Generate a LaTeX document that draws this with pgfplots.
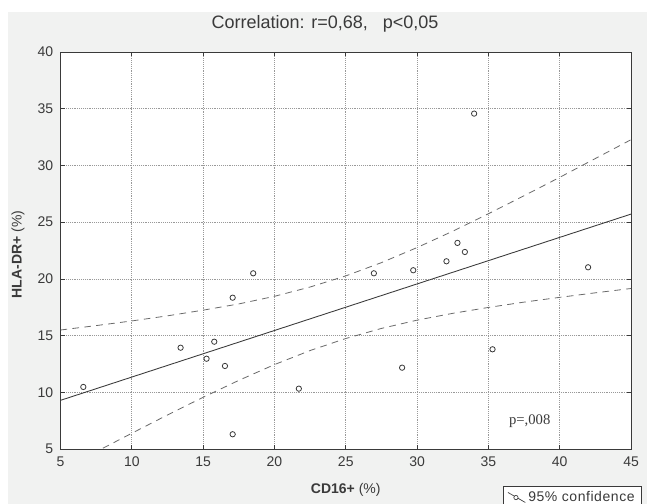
\documentclass[border=0pt]{standalone}
\usepackage{pgfplots}
\pgfplotsset{compat=1.18}
\usepackage{fontspec}
\setmainfont{Liberation Sans}
\newfontfamily\serifp{Liberation Serif}
\newfontfamily\legfont[LetterSpace=4]{Liberation Sans}
\definecolor{bg}{HTML}{F1F2F1}
\definecolor{txt}{HTML}{3A3A3A}
\definecolor{band}{HTML}{6A6A6A}

\begin{document}
\begin{tikzpicture}[x=0.75pt,y=0.75pt]
\fill[white] (0,0) rectangle (647,504);
\fill[bg] (8,0) rectangle (647,492);
\useasboundingbox (0,0) rectangle (647,504);
\begin{axis}[
  at={(45.375pt,41.25pt)}, anchor=south west,
  scale only axis, width=427.9pt, height=297.75pt,
  xmin=5, xmax=45, ymin=5, ymax=40,
  xtick={5,10,...,45}, ytick={5,10,...,40},
  grid=major,
  major grid style={densely dotted, gray!80, line width=0.5pt},
  axis line style={txt, line width=0.7pt},
  tick style={txt, line width=0.5pt},
  tick align=inside, major tick length=3pt,
  ticklabel style={font=\fontsize{10.5}{12}\selectfont, text=txt},
  xticklabel style={yshift=-2pt},
  yticklabel style={xshift=-2pt},
  /pgf/number format/assume math mode=true,
  axis background/.style={fill=white},
  title={Correlation: r=0,68,\ \ \ p<0,05},
  title style={at={(axis description cs:0.4636,1.052)}, anchor=center, font=\fontsize{13.5}{15}\selectfont, text=txt},
  xlabel={\textbf{CD16+} (\%)},
  xlabel style={at={(axis description cs:0.5,-0.103)}, anchor=center, font=\fontsize{10.5}{12}\selectfont, text=txt},
  ylabel={\textbf{HLA-DR+} (\%)},
  ylabel style={at={(axis description cs:-0.0745,0.49)}, anchor=center, font=\fontsize{10.5}{12}\selectfont, text=txt},
  legend style={at={(axis description cs:0.776,-0.0932)}, anchor=north west, draw=txt, fill=white,
    font=\legfont\fontsize{10.5}{12}\selectfont, text=txt, inner xsep=3pt, inner ysep=1.5pt, line width=0.6pt},
  legend cell align=left,
]
\addplot[only marks, mark=o, mark size=2pt, txt, mark options={line width=0.6pt}, forget plot] coordinates {
(6.60,10.47) (13.42,13.93) (15.24,12.96) (15.78,14.46) (16.53,12.32)
(17.07,18.34) (17.07,6.30) (18.51,20.49) (21.71,10.32) (26.97,20.49)
(29.73,20.76) (32.06,21.55) (32.83,23.17) (33.35,22.37) (34.00,34.57)
(41.99,21.02) (28.95,12.17) (35.29,13.79)
};
\addplot[txt, line width=0.65pt, forget plot] coordinates {(5,9.29) (45,25.71)};
\addplot[band, line width=0.6pt, dash pattern=on 5pt off 4pt, forget plot] coordinates {
(5,15.49) (7.5,15.88) (10,16.29) (12.5,16.74) (15,17.24) (17.5,17.79) (20,18.46)
(22.5,19.28) (25,20.26) (27.5,21.43) (30,22.76) (32.5,24.20) (35,25.74)
(37.5,27.33) (40,28.95) (42.5,30.61) (45,32.27)
};
\addplot[band, line width=0.6pt, dash pattern=on 5pt off 4pt, forget plot] coordinates {
(5,3.09) (7.5,4.76) (10,6.39) (12.5,8.00) (15,9.56) (17.5,11.05) (20,12.44)
(22.5,13.68) (25,14.74) (27.5,15.63) (30,16.36) (32.5,16.96) (35,17.48)
(37.5,17.95) (40,18.37) (42.5,18.77) (45,19.15)
};
\addlegendimage{legend image code/.code={
  \draw[txt, line width=0.5pt] (0pt,3.5pt) -- (13pt,-4pt);
  \draw[txt, line width=0.5pt, fill=white] (6pt,-0.3pt) circle (1.6pt);}}
\addlegendentry{95\% confidence}
\node[font=\serifp\fontsize{11}{12}\selectfont, text=txt] at (axis cs:37.9,7.47) {p=,008};
\end{axis}
\end{tikzpicture}
\end{document}
